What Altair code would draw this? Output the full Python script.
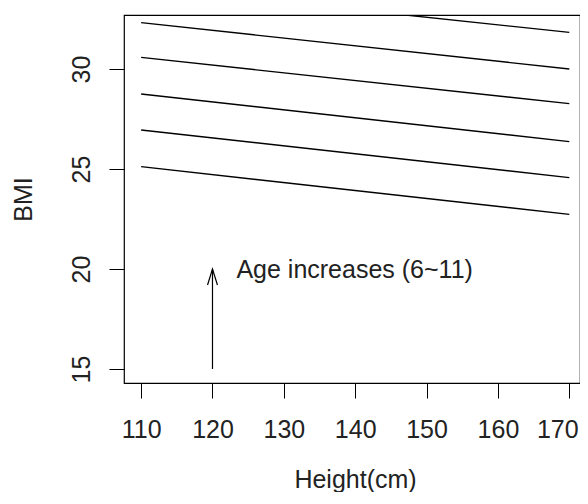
import altair as alt
import pandas as pd

# Data
ages = [6, 7, 8, 9, 10, 11]
height_ends = [110, 170]
bmi_at_110 = [25.12, 26.95, 28.75, 30.58, 32.32, 34.10]
bmi_at_170 = [22.73, 24.57, 26.37, 28.27, 30.00, 31.83]

x_ticks = [110, 120, 130, 140, 150, 160, 170]
y_ticks = [15, 20, 25, 30]

arrow_x = [120]
arrow_from = [15]
arrow_to = [20]
note_text = ["Age increases (6~11)"]
note_x = [123.35]
note_y = [19.575]

rows = []
for a, b0, b1 in zip(ages, bmi_at_110, bmi_at_170):
    rows.append({"age": a, "height": height_ends[0], "bmi": b0})
    rows.append({"age": a, "height": height_ends[1], "bmi": b1})
lines_df = pd.DataFrame(rows)

arrow_df = pd.DataFrame({"x": arrow_x, "y0": arrow_from, "y1": arrow_to})
note_df = pd.DataFrame({"x": note_x, "y": note_y, "t": note_text})

FONT = "Liberation Sans"
FS = 25
TXT = "#222222"

xscale = alt.Scale(domain=[107.6, 171.5], nice=False, zero=False)
yscale = alt.Scale(domain=[14.3, 32.7], nice=False, zero=False)

xaxis = alt.Axis(
    values=x_ticks, grid=False, domain=False, tickSize=15, tickColor="black",
    tickWidth=1, labelFont=FONT, labelFontSize=FS, labelColor=TXT,
    labelBaseline="alphabetic", labelPadding=39.5, labelAlign="center",
    labelOffset={"condition": {"test": "datum.value === 170", "value": -12}, "value": 0},
    title="Height(cm)", titleFont=FONT, titleFontSize=FS, titleFontWeight="normal",
    titleColor=TXT, titleX=231, titleY=104, titleAlign="center",
    titleBaseline="alphabetic", labelFlush=False, labelOverlap=False,
)
yaxis = alt.Axis(
    values=y_ticks, grid=False, domain=False, tickSize=15, tickColor="black",
    tickWidth=1, labelFont=FONT, labelFontSize=FS, labelColor=TXT,
    labelAngle=-90, labelAlign="center", labelBaseline="alphabetic",
    labelPadding=20, labelFlush=False, labelOverlap=False,
    title="BMI", titleFont=FONT, titleFontSize=FS, titleFontWeight="normal",
    titleColor=TXT, titleAngle=-90, titleX=-93, titleY=184,
    titleAlign="center", titleBaseline="alphabetic",
)

lines = alt.Chart(lines_df).mark_line(color="black", strokeWidth=1.4, clip=True).encode(
    x=alt.X("height:Q", scale=xscale, axis=xaxis),
    y=alt.Y("bmi:Q", scale=yscale, axis=yaxis),
    detail="age:N",
)

shaft = alt.Chart(arrow_df).mark_rule(color="black", strokeWidth=1.2).encode(
    x=alt.X("x:Q", scale=xscale),
    y=alt.Y("y0:Q", scale=yscale),
    y2="y1:Q",
)

head = alt.Chart(arrow_df).mark_point(
    shape="M -0.31 1 L 0 0 L 0.31 1", filled=False, color="black",
    strokeWidth=1.2, size=1024, opacity=1,
).encode(
    x=alt.X("x:Q", scale=xscale),
    y=alt.Y("y1:Q", scale=yscale),
)

note = alt.Chart(note_df).mark_text(
    font=FONT, fontSize=FS, color=TXT, align="left", baseline="alphabetic",
).encode(
    x=alt.X("x:Q", scale=xscale),
    y=alt.Y("y:Q", scale=yscale),
    text="t:N",
)

chart = (
    alt.layer(lines, shaft, head, note)
    .properties(
        width=456, height=368,
        autosize=alt.AutoSizeParams(type="none"),
        padding={"left": 116, "top": 7, "right": 0, "bottom": 109},
        background="white",
    )
    .configure_view(stroke="black", strokeWidth=1.2)
)

chart.save("out.html", embed_options={"renderer": "svg", "actions": False})
